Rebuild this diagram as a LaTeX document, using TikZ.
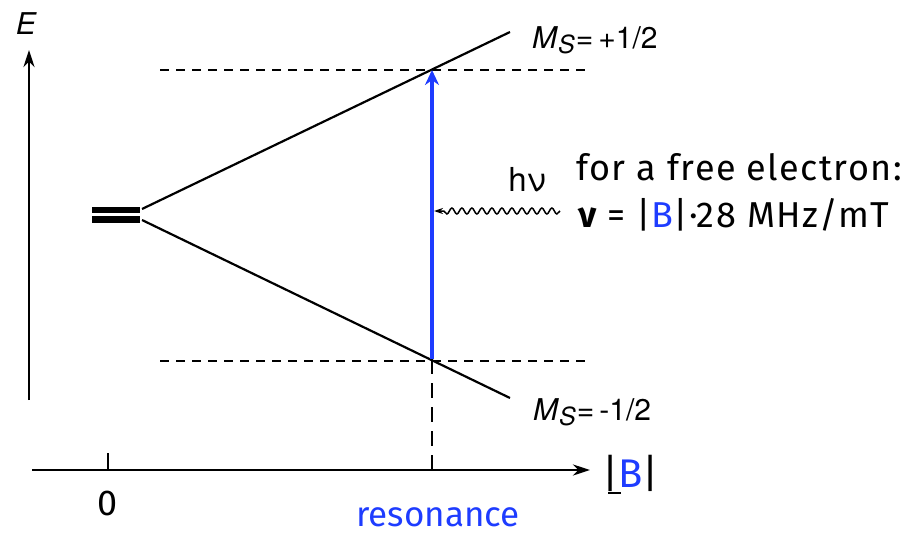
\documentclass[tikz,border=0pt]{standalone}
\usepackage{fontspec}
\setmainfont{TeX Gyre Heros}
\newfontfamily\comic[LetterSpace=4]{Fira Sans}
\newfontfamily\comicn{Fira Sans}
\usetikzlibrary{arrows.meta,decorations.pathmorphing}
\definecolor{resblue}{RGB}{30,60,255}
\newcommand{\msub}{\textit{M}\raisebox{-5pt}{\fontsize{25}{25}\selectfont\textit{S}}\kern1pt=}
\begin{document}
\begin{tikzpicture}[x=1pt,y=-1pt,
  level/.style={line width=2.2pt},
  dashlevel/.style={line width=2.2pt, dash pattern=on 9pt off 7pt},
  dashvert/.style={line width=2.8pt, dash pattern=on 15pt off 9pt},
  axis/.style={line width=2.6pt,-{Stealth[length=17pt,width=11pt]}},
  trans/.style={resblue,line width=3.2pt,-{Stealth[length=15pt,width=14pt]}},
  photon/.style={line width=1.5pt,-{Stealth[length=9pt,width=6pt]},
    decorate,decoration={snake,amplitude=3pt,segment length=10pt,post length=9pt}},
  degen/.style={line width=6.5pt},
  lbl/.style={inner sep=0pt,font=\fontsize{30}{36}\selectfont},
  clbl/.style={inner sep=0pt,font=\comic\fontsize{36}{42}\selectfont},
  every node/.style={inner sep=0pt}]
\useasboundingbox (0,0) rectangle (905,535);
% axes
\coordinate (eb) at (29,400);
\coordinate (et) at (29,50);
\draw[axis] (eb) -- (et);
\node[lbl] (E) at (26,24) {\itshape E};
\coordinate (bl) at (32,470);
\coordinate (br) at (590,470);
\draw[axis] (bl) -- (br);
\node[clbl,anchor=west,font=\comic\fontsize{40}{46}\selectfont] (Babs) at (602,473) {|\textcolor{resblue}{B}|};
\coordinate (ul1) at (608,493);
\coordinate (ul2) at (621,493);
\draw[line width=1.6pt] (ul1) -- (ul2);
\coordinate (t0a) at (108,453);
\coordinate (t0b) at (108,470);
\draw[line width=2.4pt] (t0a) -- (t0b);
\node[clbl] (zero) at (108,503) {0};
% degenerate level
\coordinate (d1a) at (92,210);
\coordinate (d1b) at (140,210);
\coordinate (d2a) at (92,219.5);
\coordinate (d2b) at (140,219.5);
\draw[degen] (d1a) -- (d1b);
\draw[degen] (d2a) -- (d2b);
% split levels
\coordinate (up0) at (142,209);
\coordinate (up1) at (510,32);
\coordinate (lo0) at (142,220);
\coordinate (lo1) at (510,398);
\draw[level] (up0) -- (up1);
\draw[level] (lo0) -- (lo1);
% dashed levels
\coordinate (dua) at (160,70);
\coordinate (dub) at (585,70);
\coordinate (dla) at (160,361);
\coordinate (dlb) at (585,361);
\draw[dashlevel] (dua) -- (dub);
\draw[dashlevel] (dla) -- (dlb);
% resonance
\coordinate (rb) at (432,359);
\coordinate (rt) at (432,70);
\coordinate (rax) at (432,470);
\draw[dashvert] (rb) -- (rax);
\draw[trans] (rb) -- (rt);
\node[clbl,font=\comicn\fontsize{35}{42}\selectfont,text=resblue] (res) at (438,517) {resonance};
% photon
\coordinate (ps) at (560,211);
\coordinate (pe) at (434,211);
\draw[photon] (ps) -- (pe);
\node[lbl,font=\fontsize{33}{38}\selectfont] (hnu) at (527,180) {hν};
% labels
\node[lbl,anchor=west] (msp) at (532,40) {\msub\,+1/2};
\node[lbl,anchor=west] (msm) at (533,412) {\msub\,-1/2};
\node[clbl] (free) at (739,167) {for a free electron:};
\node[clbl] (nu) at (734,215) {{\bfseries ν} = |\textcolor{resblue}{B}|·28 MHz/mT};
\end{tikzpicture}
\end{document}
